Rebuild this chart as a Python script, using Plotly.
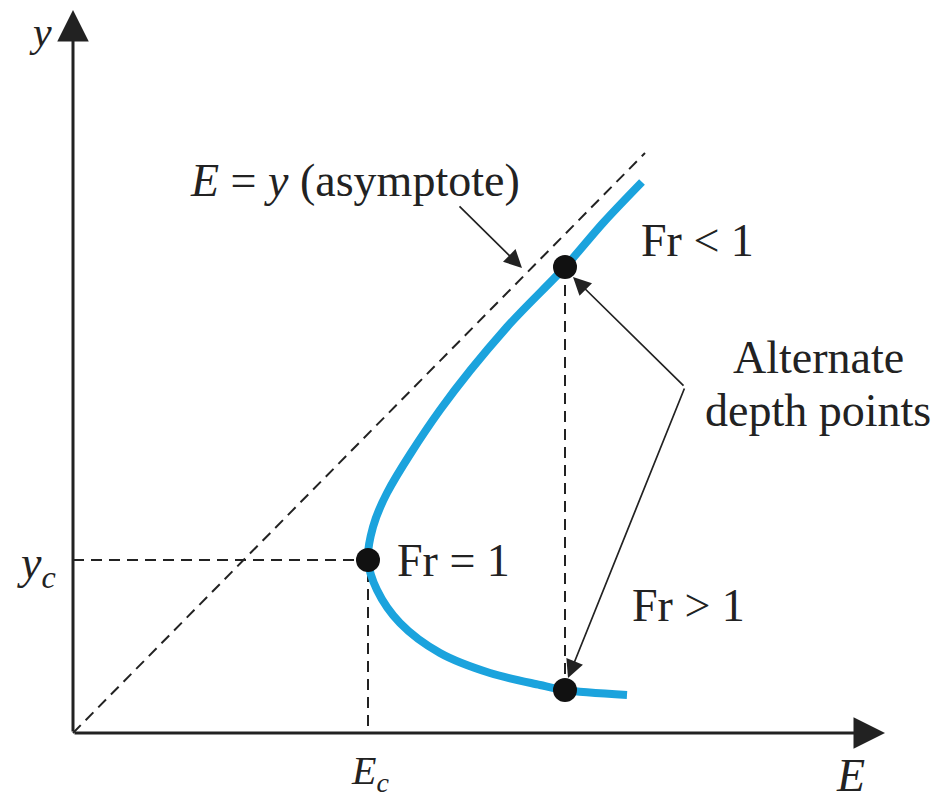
import plotly.graph_objects as go

# ---- data (units arbitrary, E horizontal, y vertical) ----
curve_E = [5.69, 5.30, 4.92, 4.34, 3.67, 3.14, 3.00, 2.95,
           3.04, 3.27, 3.67, 4.17, 4.67, 4.91, 5.54]
curve_y = [5.51, 5.10, 4.66, 4.06, 3.23, 2.40, 2.06, 1.73,
           1.43, 1.10, 0.80, 0.60, 0.48, 0.43, 0.38]
asym_E = [0.0, 5.72]
asym_y = [0.0, 5.80]
Ec, yc = 2.95, 1.73
alt_E = [4.92, 4.92]
alt_y = [4.66, 0.43]
E_max, y_max = 8.12, 7.23

FONT = "Liberation Serif, Times New Roman, serif"
INK = "#222222"
BLUE = "#1ba3dd"
DASH = "11px,7px"

fig = go.Figure()

# asymptote
fig.add_trace(go.Scatter(x=asym_E, y=asym_y, mode="lines",
                         line=dict(color=INK, width=2, dash=DASH), hoverinfo="skip"))
# critical guide lines
fig.add_trace(go.Scatter(x=[0, Ec, Ec], y=[yc, yc, 0], mode="lines",
                         line=dict(color=INK, width=2, dash=DASH), hoverinfo="skip"))
# alternate depth guide
fig.add_trace(go.Scatter(x=alt_E, y=alt_y, mode="lines",
                         line=dict(color=INK, width=2, dash=DASH), hoverinfo="skip"))
# specific energy curve
fig.add_trace(go.Scatter(x=curve_E, y=curve_y, mode="lines", line_shape="spline",
                         line=dict(color=BLUE, width=8, smoothing=0.9), hoverinfo="skip"))
# points
fig.add_trace(go.Scatter(x=[Ec] + alt_E, y=[yc] + alt_y, mode="markers",
                         marker=dict(color="#111111", size=24), hoverinfo="skip"))

def arrow(x0, y0, x1, y1, head=2, size=1.4, width=2.6):
    fig.add_annotation(x=x1, y=y1, ax=x0, ay=y0, xref="x", yref="y",
                       axref="x", ayref="y", text="", showarrow=True,
                       arrowhead=head, arrowsize=size, arrowwidth=width,
                       arrowcolor=INK, standoff=0)

# axes
arrow(0, 0, E_max, 0, size=2.1, width=3)
arrow(0, 0, 0, y_max, size=2.1, width=3)
# pointer arrows
arrow(3.85, 5.28, 4.49, 4.65, size=2.1, width=1.7)
arrow(6.12, 3.46, 5.00, 4.56, size=2.1, width=1.7)
arrow(6.12, 3.46, 4.95, 0.55, size=2.1, width=1.7)

def label(x, y, t, size=46):
    fig.add_annotation(x=x, y=y, xref="x", yref="y", text=t, showarrow=False,
                       font=dict(family=FONT, size=size, color=INK))

label(-0.33, 7.01, "<i>y</i>", size=42)
label(-0.37, 1.67, "<i>y</i><sub><i>c</i></sub>")
label(2.97, -0.40, "<i>E</i><sub><i>c</i></sub>", size=40)
label(7.77, -0.42, "<i>E</i>")
label(2.82, 5.53, "<i>E</i> = <i>y</i> (asymptote)")
label(6.24, 4.93, "Fr &lt; 1")
label(3.80, 1.73, "Fr = 1")
label(6.15, 1.28, "Fr &gt; 1")
label(7.45, 3.76, "Alternate")
label(7.45, 3.23, "depth points")

# page body has an 8px margin: figure origin sits at page (8, 8)
fig.update_layout(
    width=933, height=793, margin=dict(l=0, r=0, t=0, b=0),
    plot_bgcolor="white", paper_bgcolor="white", showlegend=False,
    xaxis=dict(range=[-0.65, 8.68], visible=False, fixedrange=True),
    yaxis=dict(range=[-0.68, 7.25], visible=False, fixedrange=True),
)
fig.write_html("out.html")
